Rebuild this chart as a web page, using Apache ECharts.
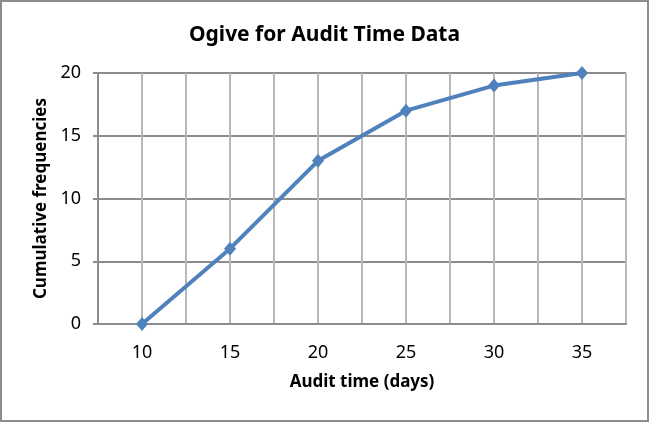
<!DOCTYPE html>
<html>
<head>
<meta charset="utf-8">
<script src="https://cdn.jsdelivr.net/npm/echarts@6/dist/echarts.min.js"></script>
<style>
  html, body { margin: 0; padding: 0; background: #fff; }
  #chart { width: 649px; height: 422px; box-sizing: border-box; border: 2px solid #8c8c8c; }
</style>
</head>
<body>
<div id="chart"></div>
<script>
// audit time (days) and cumulative frequencies
const auditTimes = [10, 15, 20, 25, 30, 35];
const cumulative = [0, 6, 13, 17, 19, 20];

const chart = echarts.init(document.getElementById('chart'));

const font = "'Noto Sans', 'DejaVu Sans', sans-serif";

const option = {
  animation: false,
  title: {
    text: 'Ogive for Audit Time Data',
    left: 'center',
    top: 18,
    textStyle: { fontFamily: font, fontSize: 21, fontWeight: 'bold', color: '#000' }
  },
  grid: { left: 96, right: 21, top: 71, bottom: 96 },
  xAxis: {
    type: 'value',
    min: 7.5,
    max: 37.5,
    interval: 2.5,
    name: 'Audit time (days)',
    nameLocation: 'middle',
    nameGap: 50,
    nameTextStyle: { fontFamily: font, fontSize: 17, fontWeight: 'bold', color: '#000' },
    axisLine: { lineStyle: { color: '#8c8c8c', width: 2 } },
    axisTick: { show: false },
    axisLabel: {
      margin: 20,
      fontFamily: font,
      fontSize: 18,
      color: '#000',
      formatter: v => (v % 5 === 0 ? String(v) : '')
    },
    splitLine: { show: true, lineStyle: { color: '#b8b8b8', width: 2 } }
  },
  yAxis: {
    type: 'value',
    min: 0,
    max: 20,
    interval: 5,
    name: 'Cumulative frequencies',
    nameLocation: 'middle',
    nameGap: 46,
    nameTextStyle: { fontFamily: font, fontSize: 17, fontWeight: 'bold', color: '#000' },
    axisLine: { show: true, lineStyle: { color: '#8c8c8c', width: 2 } },
    axisTick: { show: true, length: 5, lineStyle: { color: '#8c8c8c', width: 2 } },
    axisLabel: { margin: 17, fontFamily: font, fontSize: 18, color: '#000' },
    splitLine: { show: true, lineStyle: { color: '#8c8c8c', width: 2 } }
  },
  series: [
    {
      type: 'line',
      data: auditTimes.map((t, i) => [t, cumulative[i]]),
      symbol: 'diamond',
      symbolSize: [12, 14],
      lineStyle: { color: '#4f81bd', width: 4 },
      itemStyle: { color: '#4f81bd' }
    }
  ]
};

chart.setOption(option);
</script>
</body>
</html>
